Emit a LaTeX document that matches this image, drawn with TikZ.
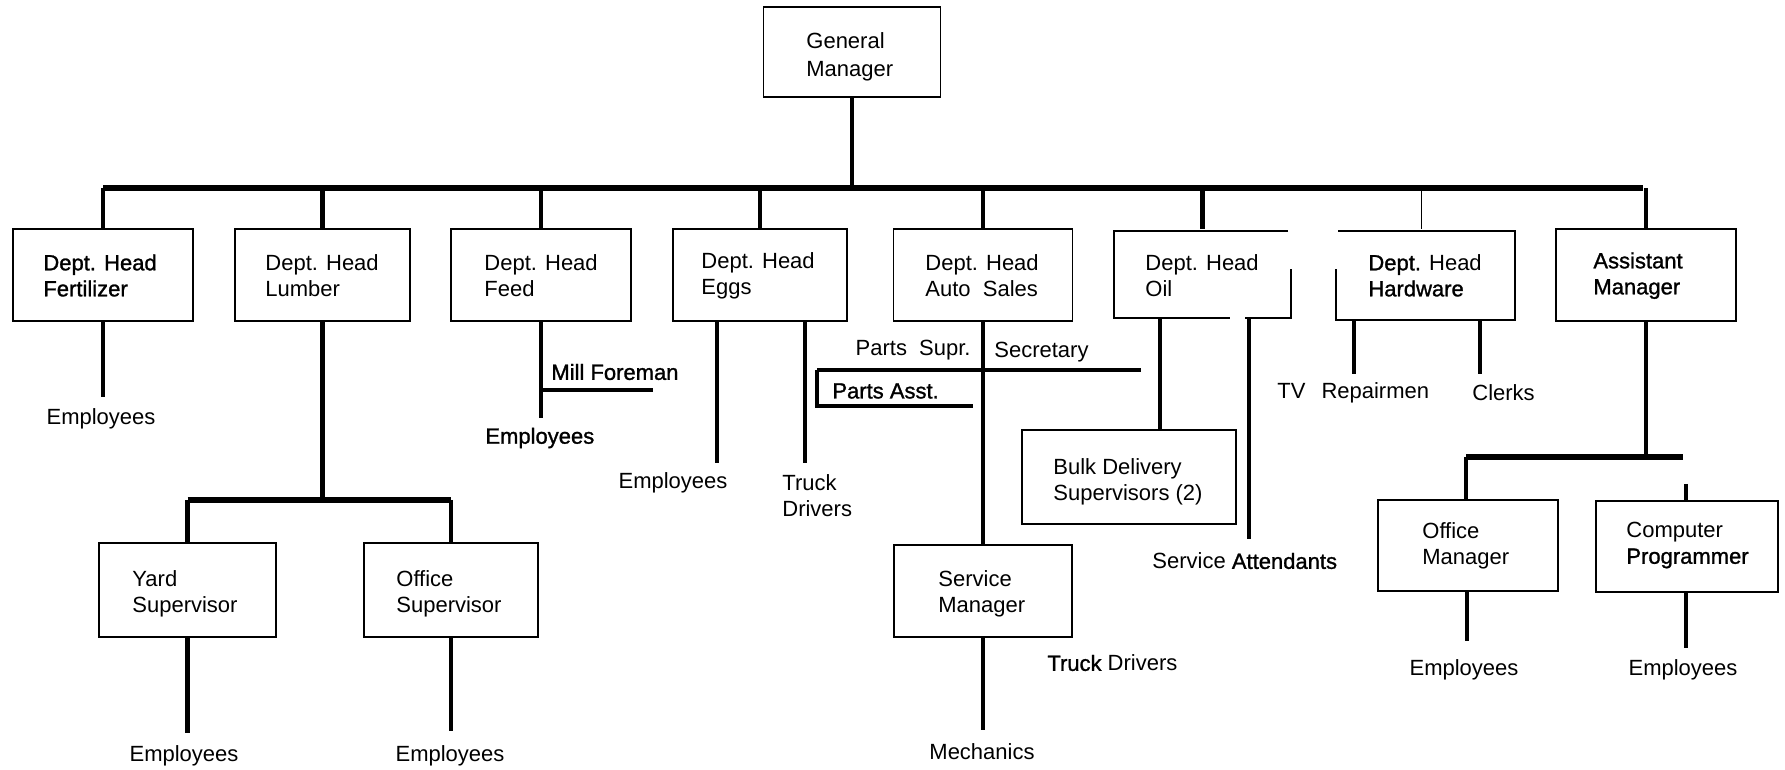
\documentclass[tikz,border=0pt]{standalone}
\usepackage{fontspec}
\setmainfont{Liberation Sans}
\newfontfamily\heavy[FakeBold=1.2]{Liberation Sans}
\begin{document}
\begin{tikzpicture}[x=0.5pt,y=-0.5pt,
  font=\fontsize{11}{13}\selectfont,
  heavy/.style={font=\fontsize{11}{13}\selectfont\heavy},
  box/.style={draw, line width=0.8pt, inner sep=0pt},
  hollow/.style={inner sep=0pt},
  edge/.style={line width=0.8pt},
  bus/.style={line width=3pt},
  drop/.style={line width=2.2pt},
  thin/.style={line width=0.9pt},
  lbl/.style={inner sep=0pt},
  two/.style={inner sep=0pt, anchor=north west, align=left}]
\useasboundingbox (0,0) rectangle (1785,770);

% ---------------- boxes ----------------
\node[box, minimum width=88.5pt, minimum height=45pt] (gm) at (852,52) {};
\node[two, font=\fontsize{11}{14}\selectfont] (gmT) at (806,32) {General\\Manager};

\node[box, minimum width=90pt,   minimum height=46pt] (fert)   at (103,275) {};
\node[box, minimum width=87.5pt, minimum height=46pt] (lumber) at (322.5,275) {};
\node[box, minimum width=90pt,   minimum height=46pt] (feed)   at (541,275) {};
\node[box, minimum width=87pt,   minimum height=46pt] (eggs)   at (760,275) {};
\node[box, minimum width=89.5pt, minimum height=46pt] (auto)   at (983,275) {};
\node[hollow, minimum width=88.5pt, minimum height=45pt] (oil) at (1202.5,274) {};
\node[hollow, minimum width=89.5pt, minimum height=46pt] (hard) at (1425.5,275) {};
\node[box, minimum width=90pt,   minimum height=46pt] (asst)   at (1646,275) {};

\node[two, heavy] (fertT)   at (43,254)   {Dept. Head\\Fertilizer};
\node[two] (lumberT) at (265,254)  {Dept. Head\\Lumber};
\node[two] (feedT)   at (484,254)  {Dept. Head\\Feed};
\node[two] (eggsT)   at (701,252)  {Dept. Head\\Eggs};
\node[two] (autoT)   at (925,254)  {Dept. Head\\Auto\ \ Sales};
\node[two] (oilT)    at (1145,254) {Dept. Head\\Oil};
\node[two] (hardT)   at (1368,254) {{\heavy Dept.} Head\\{\heavy Hardware}};
\node[two, heavy] (asstT) at (1593,252) {Assistant\\Manager};

% open-cornered boxes
\draw[edge] (1288,231) -- (1114,231) -- (1114,318) -- (1230,318);
\draw[edge] (1245,318) -- (1291,318) -- (1291,269);
\draw[edge] (1338,231) -- (1515,231) -- (1515,320) -- (1336,320) -- (1336,269);

\node[box, minimum width=88.5pt, minimum height=47pt] (yard)   at (187.5,590) {};
\node[box, minimum width=87pt,   minimum height=47pt] (offsup) at (451,590) {};
\node[box, minimum width=107pt,  minimum height=47pt] (bulk)   at (1129,477) {};
\node[box, minimum width=89pt,   minimum height=46pt] (serv)   at (983,591) {};
\node[box, minimum width=90pt,   minimum height=45.5pt] (offmgr) at (1468,545.5) {};
\node[box, minimum width=91pt,   minimum height=45.5pt] (comp)   at (1687,546.5) {};

\node[two] (yardT)   at (132,570)  {Yard\\Supervisor};
\node[two] (offsupT) at (396,570)  {Office\\Supervisor};
\node[two] (bulkT)   at (1053,458) {Bulk Delivery\\Supervisors (2)};
\node[two] (servT)   at (938,570)  {Service\\Manager};
\node[two] (offmgrT) at (1422,522) {Office\\Manager};
\node[two] (compT)   at (1626,522) {Computer\\{\heavy Programmer}};

% ---------------- leaf labels ----------------
\node[lbl] (fertEmp)   at (101,419)  {Employees};
\node[lbl] (yardEmp)   at (184,756)  {Employees};
\node[lbl] (offsupEmp) at (450,756)  {Employees};
\node[lbl, anchor=west, heavy] (mill)    at (551,372) {Mill Foreman};
\node[lbl, anchor=west, heavy] (feedEmp) at (485,438) {Employees};
\node[lbl] (eggsEmp)   at (673,483)  {Employees};
\node[two] (eggsTruck) at (782,474)  {Truck\\Drivers};
\node[lbl, anchor=east] (supr) at (971,350) {Parts\ \ Supr.};
\node[lbl, anchor=west] (secr) at (994,352) {Secretary};
\node[lbl, anchor=west, heavy] (asstParts) at (832,391) {Parts Asst.};
\node[lbl] (mech)      at (982,752)  {Mechanics};
\node[lbl, anchor=west] (servTruck) at (1047,663) {{\heavy Truck} Drivers};
\node[lbl, anchor=west] (att)  at (1152,561) {Service {\heavy Attendants}};
\node[lbl, anchor=west] (tv)   at (1277,393) {TV\hspace{8pt}Repairmen};
\node[lbl, anchor=west] (clerks) at (1472,393) {Clerks};
\node[lbl] (offmgrEmp) at (1464,670) {Employees};
\node[lbl] (compEmp)   at (1683,670) {Employees};

% ---------------- connectors ----------------
\coordinate (busL) at (103,188);
\coordinate (busR) at (1643,188);
\draw[bus] (busL) -- (busR);
\draw[drop] (gm.south) -- (gm.south |- busL);
\foreach \n in {fert,lumber,feed,eggs,auto,oil,asst}
  \draw[drop] (\n.north) -- (\n.north |- busL);
\draw[thin] ([xshift=-2pt]hard.north) -- ([xshift=-2pt]hard.north |- busL);

% fertilizer
\coordinate (fertEnd) at (103,397);
\draw[drop] (fert.south) -- (fertEnd);

% lumber
\coordinate (lumBusL) at (187.5,500);
\coordinate (lumBusR) at (451,500);
\draw[drop] (lumber.south) -- (lumber.south |- lumBusL);
\draw[bus] (lumBusL) -- (lumBusR);
\draw[drop] (lumBusL) -- (yard.north);
\draw[drop] (lumBusR) -- (offsup.north);
\coordinate (yardEnd) at (187.5,733);
\coordinate (offsupEnd) at (451,731);
\draw[drop] (yard.south) -- (yardEnd);
\draw[drop] (offsup.south) -- (offsupEnd);

% feed
\coordinate (feedEnd) at (541,418);
\coordinate (millJ) at (541,390);
\coordinate (millEnd) at (653,390);
\draw[drop] (feed.south) -- (feedEnd);
\draw[drop] (millJ) -- (millEnd);

% eggs
\coordinate (eggsEmpEnd) at (717,463);
\coordinate (eggsTruckEnd) at (805,463);
\draw[drop] (eggs.south -| eggsEmpEnd) -- (eggsEmpEnd);
\draw[drop] (eggs.south -| eggsTruckEnd) -- (eggsTruckEnd);

% auto sales
\draw[drop] (auto.south) -- (serv.north);
\coordinate (partsL) at (817,370);
\coordinate (partsR) at (1141,370);
\coordinate (partsB) at (817,406);
\coordinate (partsE) at (973,406);
\draw[drop] (partsL) -- (partsR);
\draw[drop] (partsL) -- (partsB) -- (partsE);
\coordinate (servEnd) at (983,730);
\draw[drop] (serv.south) -- (servEnd);

% oil
\coordinate (bulkTop) at (1160,430.5);
\draw[drop] (oil.south -| bulkTop) -- (bulkTop);
\coordinate (attEnd) at (1249,539);
\draw[drop] (1249,318) -- (attEnd);

% hardware
\coordinate (tvEnd) at (1354,374);
\coordinate (clerkEnd) at (1480,374);
\draw[drop] (hard.south -| tvEnd) -- (tvEnd);
\draw[drop] (hard.south -| clerkEnd) -- (clerkEnd);

% assistant manager
\coordinate (amBusL) at (1466,457);
\coordinate (amBusR) at (1683,457);
\draw[drop] (asst.south) -- (asst.south |- amBusL);
\draw[bus] (amBusL) -- (amBusR);
\draw[drop] (amBusL) -- (offmgr.north -| amBusL);
\coordinate (compStub) at (1686,484);
\draw[drop] (compStub) -- (comp.north -| compStub);
\coordinate (offmgrEnd) at (1467,641);
\coordinate (compEnd) at (1686,648);
\draw[drop] (offmgr.south -| offmgrEnd) -- (offmgrEnd);
\draw[drop] (comp.south -| compEnd) -- (compEnd);
\end{tikzpicture}
\end{document}
